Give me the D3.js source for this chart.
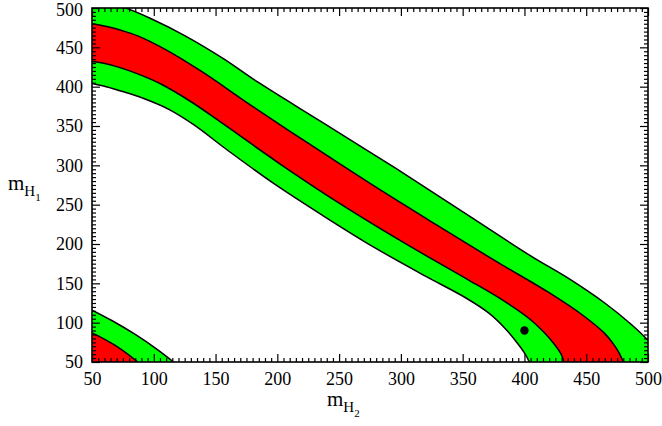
<!DOCTYPE html>
<html>
<head>
<meta charset="utf-8">
<script src="https://cdn.jsdelivr.net/npm/d3@7/dist/d3.min.js"></script>
<style>
  html, body { margin: 0; padding: 0; background: #fff; }
  svg { display: block; }
  text { font-family: "Liberation Serif", "Times New Roman", serif; fill: #000; }
</style>
</head>
<body>
<svg id="chart" width="662" height="426"></svg>
<script>
// ---- data (mH2, mH1) ----
const xTicks = [50, 100, 150, 200, 250, 300, 350, 400, 450, 500];
const yTicks = [50, 100, 150, 200, 250, 300, 350, 400, 450, 500];

// outer green boundary (upper) of main band
const greenUpper = [[45,515],[59,509],[76.5,500.5],[97,487],[125,465],[156,436],[185,405],[235.5,355.5],[296,296],[355.5,235.5],[405,185],[436,156],[465,125],[487,97],[500.5,76.5],[509,59],[515,45]];
// inner red boundary (upper)
const redUpper = [[50,480],[62,476.5],[74,471.5],[87,464.5],[108.5,448],[139,419],[177.5,377.5],[226.5,326.5],[276,276],[326.5,226.5],[377.5,177.5],[419,139],[448,108.5],[464.5,87],[471.5,74],[476.5,62],[480,50]];
// inner red boundary (lower)
const redLower = [[50,432],[60.5,429.5],[72,424.5],[87.5,416],[105,404],[130.5,380.5],[154.5,354.5],[202,302],[251,251],[302,202],[354.5,154.5],[380.5,130.5],[404,105],[416,87.5],[424.5,72],[429.5,60.5],[432,50]];
// outer green boundary (lower)
const greenLower = [[50,404],[61.5,400],[75.5,393.5],[90.8,385.5],[111.8,371.5],[132,352],[159.5,319.5],[197,277],[236.5,236.5],[277,197],[319.5,159.5],[352,132],[371.5,111.8],[385.5,90.8],[393.5,75.5],[400,61.5],[404,50]];

// small corner band
const cornerGreen = [[50,116],[66.4,102.4],[85,85],[102.4,66.4],[116,50]];
const cornerRed = [[50,87],[59.5,79.5],[70,70],[79.5,59.5],[87,50]];
const cornerOrigin = [50, 50];

// marked point
const point = [400, 90];

// ---- drawing ----
const svg = d3.select("#chart");
const x = d3.scaleLinear().domain([50, 500]).range([92, 648]);
const y = d3.scaleLinear().domain([50, 500]).range([362, 8]);

const GREEN = "#00ff00", RED = "#ff0000";

svg.append("defs").append("clipPath").attr("id", "plotclip")
  .append("rect")
  .attr("x", x(50)).attr("y", y(500))
  .attr("width", x(500) - x(50)).attr("height", y(50) - y(500));

const line = d3.line().x(d => x(d[0])).y(d => y(d[1])).curve(d3.curveCatmullRom.alpha(0.5));
const straight = d3.line().x(d => x(d[0])).y(d => y(d[1]));

function bandPath(upper, lower) {
  return line(upper) + line(lower.slice().reverse()).replace(/^M/, "L") + "Z";
}
function cornerPath(curve) {
  return line(curve) + straight([curve[curve.length - 1], cornerOrigin, curve[0]]).replace(/^M/, "L") + "Z";
}

const g = svg.append("g").attr("clip-path", "url(#plotclip)");

g.append("path").attr("d", bandPath(greenUpper, greenLower)).attr("fill", GREEN);
g.append("path").attr("d", bandPath(redUpper, redLower)).attr("fill", RED);
g.append("path").attr("d", cornerPath(cornerGreen)).attr("fill", GREEN);
g.append("path").attr("d", cornerPath(cornerRed)).attr("fill", RED);

[greenUpper, redUpper, redLower, greenLower, cornerGreen, cornerRed].forEach(c => {
  g.append("path").attr("d", line(c)).attr("fill", "none")
    .attr("stroke", "#000").attr("stroke-width", 1.5);
});

g.append("circle").attr("cx", x(point[0])).attr("cy", y(point[1])).attr("r", 4.2).attr("fill", "#000");

// ---- axes ----
const minorX = d3.range(50, 501, 5).filter(v => v % 50 !== 0);
const minorY = d3.range(50, 501, 5).filter(v => v % 50 !== 0);

function addAxis(axisFn, scale, tr, values, size, labels, pad) {
  const a = axisFn(scale).tickValues(values).tickSizeInner(-size).tickSizeOuter(0).tickPadding(pad || 3);
  if (!labels) a.tickFormat("");
  const ga = svg.append("g").attr("transform", tr).call(a);
  ga.select(".domain").remove();
  ga.selectAll("line").attr("stroke", "#000").attr("stroke-width", 1.2);
  ga.selectAll("text").attr("font-size", 18).attr("font-family", '"Liberation Serif", "Times New Roman", serif').attr("fill", "#000");
  return ga;
}
// bottom
addAxis(d3.axisBottom, x, `translate(0,${y(50)})`, xTicks, 8, true, 10);
addAxis(d3.axisBottom, x, `translate(0,${y(50)})`, minorX, 4, false);
// top
addAxis(d3.axisTop, x, `translate(0,${y(500)})`, xTicks, 8, false);
addAxis(d3.axisTop, x, `translate(0,${y(500)})`, minorX, 4, false);
// left
const leftAxis = addAxis(d3.axisLeft, y, `translate(${x(50)},0)`, yTicks, 8, true, 9);
addAxis(d3.axisLeft, y, `translate(${x(50)},0)`, minorY, 4, false);
// right
addAxis(d3.axisRight, y, `translate(${x(500)},0)`, yTicks, 8, false);
addAxis(d3.axisRight, y, `translate(${x(500)},0)`, minorY, 4, false);
// keep the top label inside the picture
leftAxis.selectAll("text").filter(d => d === 500).attr("dy", "0.42em");

// frame
svg.append("rect")
  .attr("x", x(50)).attr("y", y(500))
  .attr("width", x(500) - x(50)).attr("height", y(50) - y(500))
  .attr("fill", "none").attr("stroke", "#000").attr("stroke-width", 1.6);

// axis titles
const xt = svg.append("text").attr("x", 327).attr("y", 406).attr("font-size", 21);
xt.append("tspan").text("m");
xt.append("tspan").attr("font-size", 15).attr("dy", 6).text("H");
xt.append("tspan").attr("font-size", 11).attr("dy", 5).text("2");

const yt = svg.append("text").attr("x", 8).attr("y", 190).attr("font-size", 21);
yt.append("tspan").text("m");
yt.append("tspan").attr("font-size", 15).attr("dy", 6).text("H");
yt.append("tspan").attr("font-size", 11).attr("dy", 5).text("1");
</script>
</body>
</html>
